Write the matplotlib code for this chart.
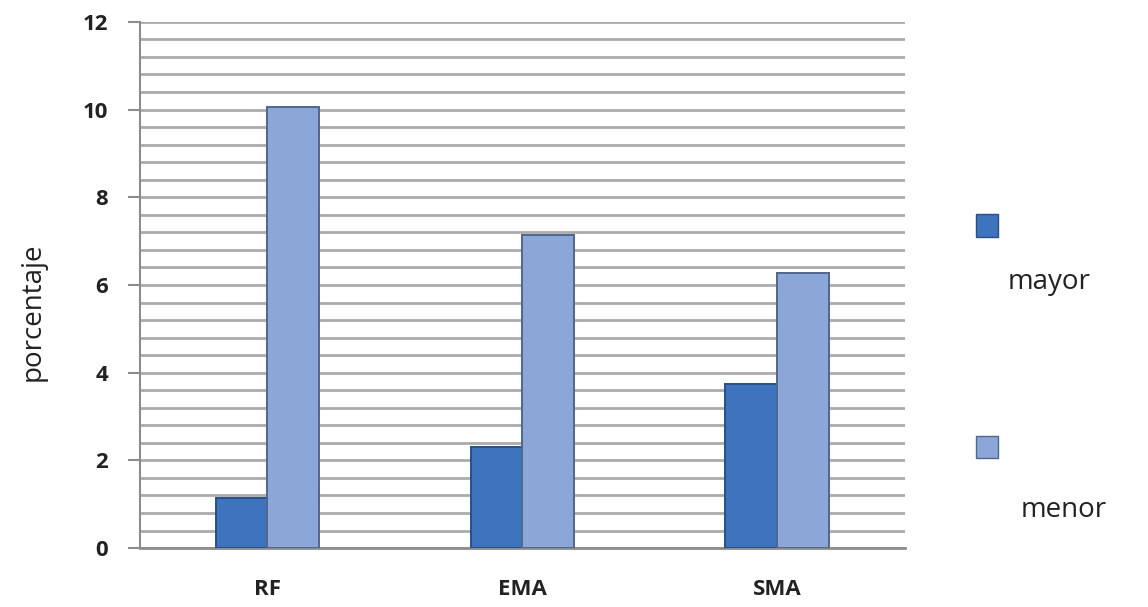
import numpy as np
import matplotlib
matplotlib.use('Agg')
import matplotlib.pyplot as plt
from matplotlib.patches import Rectangle

categories = ['RF', 'EMA', 'SMA']
mayor = [1.15, 2.3, 3.75]
menor = [10.05, 7.15, 6.28]
series_names = ['mayor', 'menor']

plt.rcParams['font.family'] = ['Open Sans', 'DejaVu Sans']

def main():
    fig = plt.figure(figsize=(11.48, 6.07), dpi=100)
    ax = fig.add_axes([0.122, 0.097, 0.666, 0.867])

    x = np.arange(len(categories))
    w = 0.203
    ax.bar(x - w / 2, mayor, w, color='#3d74bd', edgecolor='#2a4f86', linewidth=1.4, zorder=3)
    ax.bar(x + w / 2, menor, w, color='#8ba7d8', edgecolor='#52668c', linewidth=1.4, zorder=3)

    ax.set_xlim(-0.5, 2.5)
    ax.set_ylim(0, 12)
    ax.set_yticks(np.arange(0, 13, 2))
    ax.set_yticks(np.arange(0, 12.01, 0.4), minor=True)
    ax.grid(axis='y', which='both', color='#ababab', linewidth=2, zorder=0)
    ax.set_xticks(x)
    ax.set_xticklabels(categories, fontsize=16, fontweight='bold', color='#222222')
    for lab in ax.get_yticklabels():
        lab.set_fontweight('bold')
        lab.set_fontsize(16)
        lab.set_color('#222222')
    ax.tick_params(axis='y', which='major', length=9, color='#8c8c8c', width=1.5, pad=14)
    ax.tick_params(axis='y', which='minor', length=0)
    ax.tick_params(axis='x', length=0, pad=22)

    for s in ['top', 'right']:
        ax.spines[s].set_visible(False)
    ax.spines['left'].set_color('#8c8c8c')
    ax.spines['left'].set_linewidth(1.5)
    ax.spines['bottom'].set_color('#8c8c8c')
    ax.spines['bottom'].set_linewidth(2)

    ax.set_ylabel('porcentaje', fontsize=20, color='#222222')
    ax.yaxis.set_label_coords(-0.122, 0.45)

    # legend drawn by hand, marker above the text
    colors = ['#3d74bd', '#8ba7d8']
    edges = ['#2a4f86', '#52668c']
    marker_y = [0.61, 0.245]
    text_pos = [(0.878, 0.535), (0.889, 0.16)]
    for name, c, ec, my, (tx, ty) in zip(series_names, colors, edges, marker_y, text_pos):
        fig.add_artist(Rectangle((0.850, my), 0.0195, 0.037, transform=fig.transFigure,
                                 facecolor=c, edgecolor=ec, linewidth=1))
        fig.text(tx, ty, name, fontsize=20, color='#222222', ha='left', va='center')

    fig.savefig('out.png', dpi=100)

main()
